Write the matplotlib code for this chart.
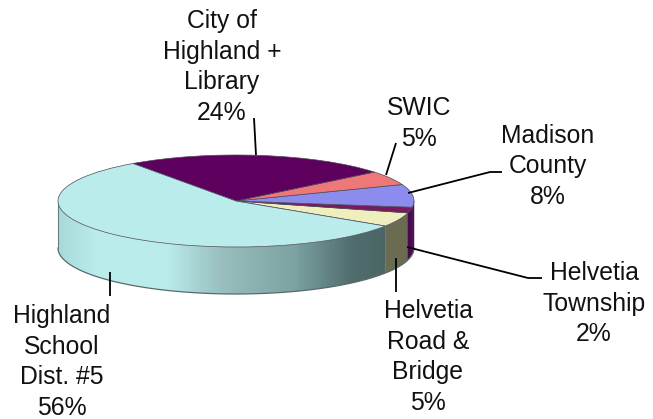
import numpy as np
import matplotlib
matplotlib.use("Agg")
import matplotlib.pyplot as plt
from matplotlib.colors import LinearSegmentedColormap
from matplotlib.patches import Wedge, Polygon
from matplotlib.transforms import Affine2D

plt.rcParams['font.family'] = ['Liberation Sans', 'DejaVu Sans']

# Data, counter-clockwise from the front right
labels = ['Helvetia\nRoad &\nBridge', 'Helvetia\nTownship', 'Madison\nCounty',
          'SWIC', 'City of\nHighland +\nLibrary', 'Highland\nSchool\nDist. #5']
shares = [5, 2, 8, 5, 24, 56]
top_colors = ['#EFEFBE', '#7A1A5C', '#8C8CEE', '#EE7878', '#5E005E', '#BBECEC']
wall_colors = ['#6B6B52', '#4A0A50', '#4A0A50']  # only the first three show at the right

W, H = 653, 419
cx, cy = 236, 419 - 201   # pie centre
rx, ry = 178, 46
depth = 47
start = -33

fig = plt.figure(figsize=(W / 100, H / 100), dpi=100)
ax = fig.add_axes([0, 0, 1, 1])
ax.set_xlim(0, W)
ax.set_ylim(0, H)
ax.axis('off')


def wall_points(a1, a2):
    t = np.radians(np.linspace(a1, a2, 80))
    x = cx + rx * np.cos(t)
    y = cy + ry * np.sin(t)
    return np.r_[np.c_[x, y], np.c_[x, y - depth][::-1]]


# Slice angles come from the shares
edges = start + np.r_[0, np.cumsum(shares)] * 3.6

# Walls at the right of the front
for i, color in enumerate(wall_colors):
    a2 = min(edges[i + 1], 0)
    ax.add_patch(Polygon(wall_points(edges[i], a2), closed=True, fc=color, ec=color,
                         lw=0.3, zorder=2))

# Big slice wall has a gradient, the rest of the front half
grad = LinearSegmentedColormap.from_list('wall', [
    (0.00, '#A8D8D8'), (0.12, '#BBECEC'), (0.33, '#BBECEC'), (0.50, '#98BEBE'),
    (0.72, '#7CA2A2'), (0.90, '#506C6C'), (1.00, '#4C6666')])
poly = Polygon(wall_points(180, 360 + start), closed=True, fc='none', ec='none', zorder=2)
ax.add_patch(poly)
img = ax.imshow(np.linspace(0, 1, 330).reshape(1, -1), cmap=grad, aspect='auto',
                extent=(57, 387, cy - ry - depth, cy + 10), zorder=2)
img.set_clip_path(poly)
ax.set_xlim(0, W)
ax.set_ylim(0, H)

# Outline of the wall
t = np.radians(np.linspace(180, 360, 200))
ax.plot(cx + rx * np.cos(t), cy + ry * np.sin(t) - depth, color='#5A6A6A', lw=0.9, zorder=3)
ax.plot([cx - rx, cx - rx], [cy, cy - depth], color='#6A8080', lw=0.8, zorder=3)

# Top face
squash = Affine2D().scale(rx, ry).translate(cx, cy) + ax.transData
for i in range(len(shares)):
    ax.add_patch(Wedge((0, 0), 1, edges[i], edges[i + 1], fc=top_colors[i],
                       ec='#4A4A5A', lw=0.5, transform=squash, zorder=4))

# Leader lines, in picture pixels
leaders = [
    [(396, 258), (396, 292)],
    [(407, 247), (528, 278), (542, 278)],
    [(408, 193), (490, 172), (502, 172)],
    [(396, 143), (386, 175)],
    [(254, 118), (256, 155)],
    [(110, 272), (110, 296)],
]
for pts in leaders:
    xs, ys = zip(*pts)
    ax.plot(xs, [H - v for v in ys], color='black', lw=1.3, zorder=5, solid_capstyle='butt')

# Label anchors: centre x and first baseline
anchors = [(428, 318), (594, 280), (548, 143), (419, 115), (222, 28), (62, 323)]
font_px = 24.8
for name, share, (lx, ly) in zip(labels, shares, anchors):
    lines = name.split('\n') + ['%d%%' % share]
    for k, line in enumerate(lines):
        ax.text(lx, H - (ly + k * 30.5), line, ha='center', va='baseline',
                fontsize=font_px * 0.72, color='#111111', zorder=6)

fig.savefig('out.png', dpi=100)
